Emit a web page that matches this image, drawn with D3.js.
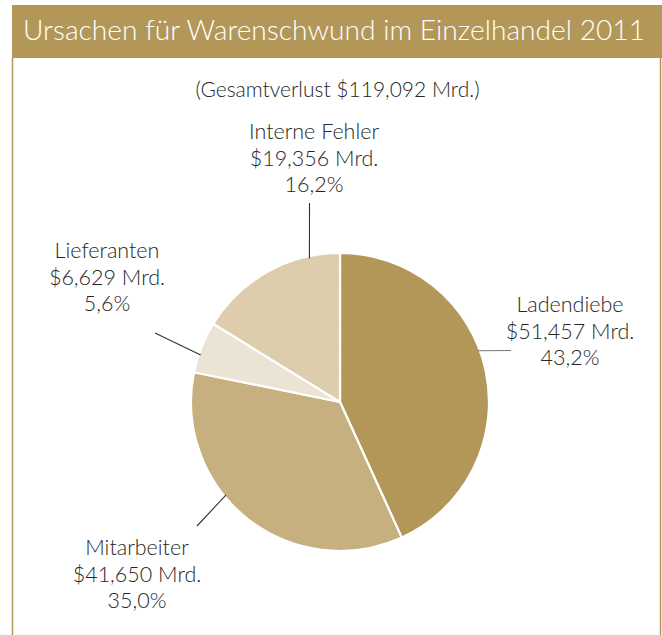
<!DOCTYPE html>
<html>
<head>
<meta charset="utf-8">
<script src="https://cdn.jsdelivr.net/npm/d3@7"></script>
<style>
  html, body { margin: 0; padding: 0; background: #fff; }
  svg { display: block; }
  text { font-family: Lato, "Open Sans", sans-serif; fill: #262626; }
</style>
</head>
<body>
<svg id="chart" width="662" height="635"></svg>
<script>
// chart data
const titleText = "Ursachen für Warenschwund im Einzelhandel 2011";
const subtitleText = "(Gesamtverlust $119,092 Mrd.)";
const categories = ["Ladendiebe", "Mitarbeiter", "Lieferanten", "Interne Fehler"];
const amounts = ["$51,457 Mrd.", "$41,650 Mrd.", "$6,629 Mrd.", "$19,356 Mrd."];
const shares = [43.2, 35.0, 5.6, 16.2];
const sliceColors = ["#b39758", "#c7b07f", "#ebe3d3", "#decdad"];

const width = 662, height = 635;
const gold = "#b39758";
const cx = 340, cy = 402, radius = 149;

// where each label sits: leader angle on the rim (deg, clockwise from top),
// leader end point, and the label's centre / first baseline
const labelLayout = [
  { ang: 69.6,  x2: 511, y2: 350.5, tx: 570, ty: 312, line: "#777" },
  { ang: 230.8, x2: 197, y2: 526,   tx: 137, ty: 555, line: "#333" },
  { ang: 288.6, x2: 155, y2: 333,   tx: 107, ty: 258, line: "#333" },
  { ang: 348,   x2: 309.5, y2: 203, tx: 314, ty: 139, line: "#333" }
];
const lineStep = 26.7;

const svg = d3.select("#chart");

// frame: title bar and thin side rules
svg.append("rect")
  .attr("x", 12).attr("y", 5)
  .attr("width", width - 12).attr("height", 53)
  .attr("fill", gold);
svg.append("line")
  .attr("x1", 12.5).attr("x2", 12.5).attr("y1", 58).attr("y2", height)
  .attr("stroke", gold).attr("stroke-width", 1.5);
svg.append("line")
  .attr("x1", 660.5).attr("x2", 660.5).attr("y1", 58).attr("y2", height)
  .attr("stroke", gold).attr("stroke-width", 1.5);

svg.append("text")
  .attr("x", 23).attr("y", 40)
  .attr("textLength", 622)
  .attr("lengthAdjust", "spacingAndGlyphs")
  .style("font-size", "27px")
  .style("font-weight", 300)
  .style("fill", "#fff")
  .text(titleText);

svg.append("text")
  .attr("x", 337.5).attr("y", 97)
  .attr("text-anchor", "middle")
  .style("font-size", "21px")
  .style("font-weight", 300)
  .text(subtitleText);

// the pie
const data = categories.map((c, i) => ({
  name: c, amount: amounts[i], share: shares[i], color: sliceColors[i], lay: labelLayout[i]
}));

const pie = d3.pie().value(d => d.share).sort(null);
const arc = d3.arc().innerRadius(0).outerRadius(radius);

const g = svg.append("g").attr("transform", `translate(${cx},${cy})`);

g.selectAll("path.slice")
  .data(pie(data))
  .join("path")
  .attr("class", "slice")
  .attr("d", arc)
  .attr("fill", d => d.data.color)
  .attr("stroke", "#fff")
  .attr("stroke-width", 2.2)
  .attr("stroke-linejoin", "round");

// leader lines
svg.selectAll("line.leader")
  .data(data)
  .join("line")
  .attr("class", "leader")
  .attr("x1", d => cx + (radius - 2) * Math.sin(d.lay.ang * Math.PI / 180))
  .attr("y1", d => cy - (radius - 2) * Math.cos(d.lay.ang * Math.PI / 180))
  .attr("x2", d => d.lay.x2)
  .attr("y2", d => d.lay.y2)
  .attr("stroke", d => d.lay.line)
  .attr("stroke-width", 1.1);

// labels: name, amount, share
const fmtShare = v => v.toFixed(1).replace(".", ",") + "%";
const lab = svg.selectAll("text.lab")
  .data(data)
  .join("text")
  .attr("class", "lab")
  .attr("text-anchor", "middle")
  .style("font-size", "21.5px")
  .style("font-weight", 300);

lab.selectAll("tspan")
  .data(d => [d.name, d.amount, fmtShare(d.share)].map((t, k) => ({ t, k, lay: d.lay })))
  .join("tspan")
  .attr("x", d => d.lay.tx)
  .attr("y", d => d.lay.ty + d.k * lineStep)
  .text(d => d.t);
</script>
</body>
</html>
